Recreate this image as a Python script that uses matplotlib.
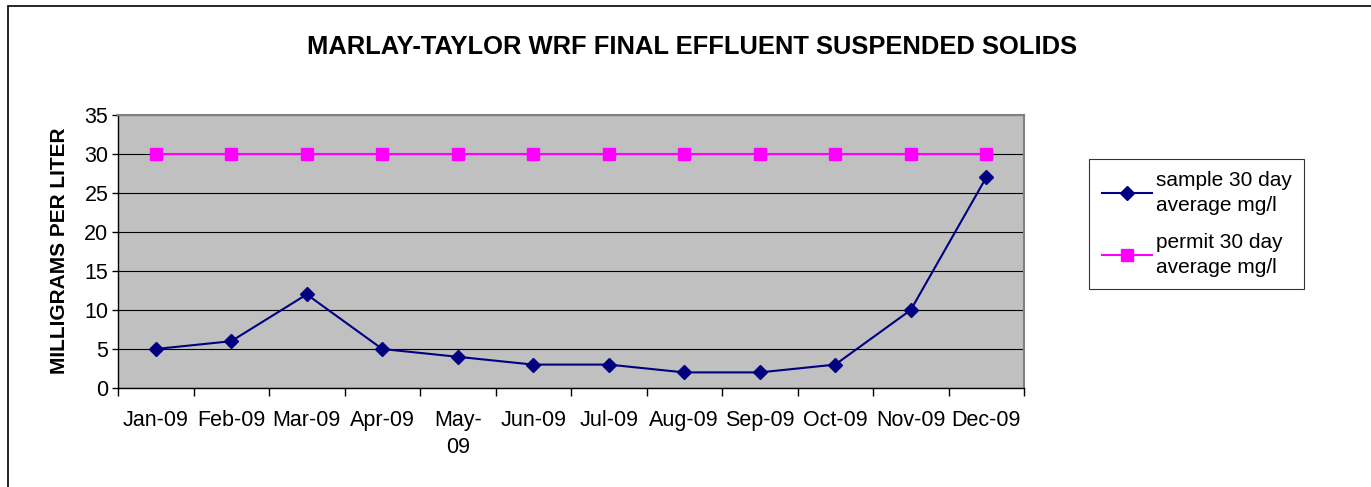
import matplotlib.pyplot as plt
import matplotlib.patches as patches

# Monthly data for 2009
months = ["Jan-09", "Feb-09", "Mar-09", "Apr-09", "May-\n09", "Jun-09",
          "Jul-09", "Aug-09", "Sep-09", "Oct-09", "Nov-09", "Dec-09"]
sample_avg = [5, 6, 12, 5, 4, 3, 3, 2, 2, 3, 10, 27]
permit_avg = [30, 30, 30, 30, 30, 30, 30, 30, 30, 30, 30, 30]

plt.rcParams['font.family'] = ['Liberation Sans', 'DejaVu Sans']

fig = plt.figure(figsize=(13.71, 4.87), dpi=100)
ax = fig.add_axes([118 / 1371, 1 - 388 / 487, 906 / 1371, 273 / 487])
ax.set_facecolor("#C0C0C0")

x = list(range(len(months)))
ax.plot(x, sample_avg, color="#000080", marker="D", markersize=7, linewidth=1.5,
        label="sample 30 day\naverage mg/l", zorder=3)
ax.plot(x, permit_avg, color="#FF00FF", marker="s", markersize=9, linewidth=1.5,
        label="permit 30 day\naverage mg/l", zorder=3)

ax.set_xlim(-0.5, len(months) - 0.5)
ax.set_ylim(0, 35)
ax.set_yticks(range(0, 36, 5))
ax.yaxis.grid(True, color="black", linewidth=0.8)
ax.set_axisbelow(True)

# category boundaries for tick marks, labels in the middle
ax.set_xticks([i - 0.5 for i in range(len(months) + 1)])
ax.set_xticklabels([])
ax.set_xticks(x, minor=True)
ax.set_xticklabels(months, minor=True, fontsize=15.5, linespacing=1.35)
ax.tick_params(axis="x", which="minor", length=0, pad=16)
ax.tick_params(axis="x", which="major", length=6, direction="out", width=1)
ax.tick_params(axis="y", length=4, width=1, labelsize=15.5, pad=3)

for side in ["top", "right"]:
    ax.spines[side].set_color("#808080")
    ax.spines[side].set_linewidth(1.5)
for side in ["left", "bottom"]:
    ax.spines[side].set_color("black")
    ax.spines[side].set_linewidth(1)

ax.set_ylabel("MILLIGRAMS PER LITER", fontsize=15, fontweight="bold")
ax.yaxis.set_label_coords((69 - 118) / 906, 0.5 + (388 - 251 - 136.5) / 273)
fig.text(692 / 1371, 1 - 47 / 487, "MARLAY-TAYLOR WRF FINAL EFFLUENT SUSPENDED SOLIDS",
         ha="center", va="center", fontsize=18.4, fontweight="bold")

leg = fig.legend(loc="upper left", bbox_to_anchor=(1089 / 1371, 1 - 159 / 487),
                 fontsize=15, frameon=True, fancybox=False, borderpad=0.6,
                 labelspacing=0.9, handlelength=2.4, handletextpad=0.2,
                 borderaxespad=0)
for t in leg.get_texts():
    t.set_linespacing(1.35)
leg.get_frame().set_edgecolor("black")
leg.get_frame().set_linewidth(0.8)

# outer chart border
border = patches.Rectangle((8 / 1371, -0.2), 1.2, 1.2 - 6 / 487, transform=fig.transFigure,
                           fill=False, edgecolor="black", linewidth=1.2)
fig.patches.append(border)

fig.savefig("out.png", dpi=100)
